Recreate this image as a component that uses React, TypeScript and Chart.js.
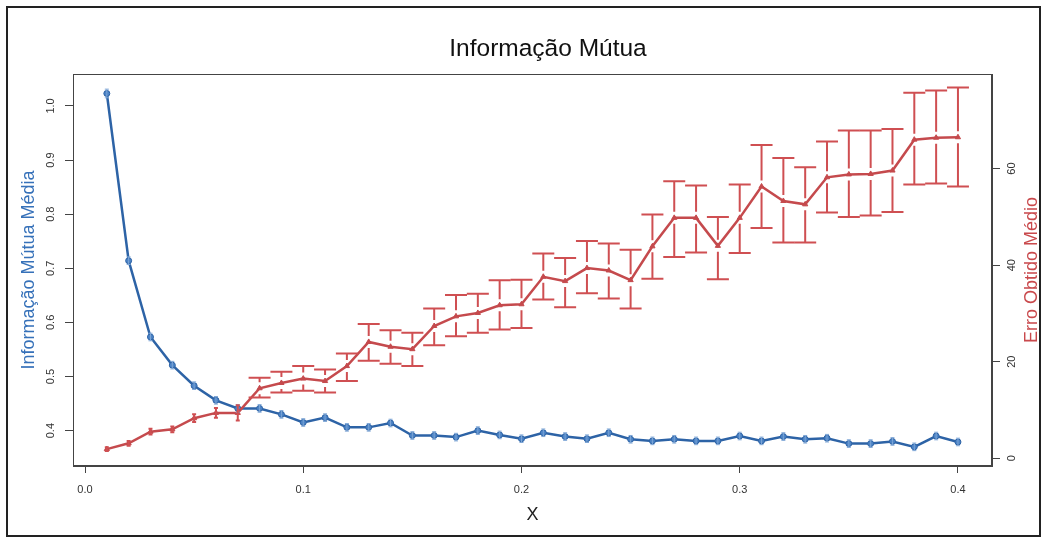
import React, { useEffect, useRef } from "react";
import { Chart, registerables } from "chart.js";

Chart.register(...registerables);

// ---------- data ----------
const xValues = [
  0.01, 0.02, 0.03, 0.04, 0.05, 0.06, 0.07, 0.08, 0.09, 0.1,
  0.11, 0.12, 0.13, 0.14, 0.15, 0.16, 0.17, 0.18, 0.19, 0.2,
  0.21, 0.22, 0.23, 0.24, 0.25, 0.26, 0.27, 0.28, 0.29, 0.3,
  0.31, 0.32, 0.33, 0.34, 0.35, 0.36, 0.37, 0.38, 0.39, 0.4,
];

const infoMutuaMedia = [
  1.023, 0.714, 0.573, 0.521, 0.483, 0.456, 0.441, 0.441, 0.43, 0.415,
  0.424, 0.406, 0.406, 0.414, 0.391, 0.391, 0.388, 0.4, 0.392, 0.385,
  0.396, 0.389, 0.385, 0.396, 0.384, 0.381, 0.384, 0.381, 0.381, 0.39,
  0.381, 0.389, 0.384, 0.386, 0.376, 0.376, 0.38, 0.37, 0.39, 0.379,
];

const infoMutuaErro = [
  0.008, 0.007, 0.007, 0.007, 0.007, 0.007, 0.007, 0.007, 0.007, 0.007,
  0.007, 0.007, 0.007, 0.007, 0.007, 0.007, 0.007, 0.007, 0.007, 0.007,
  0.007, 0.007, 0.007, 0.007, 0.007, 0.007, 0.007, 0.007, 0.007, 0.007,
  0.007, 0.007, 0.007, 0.007, 0.007, 0.007, 0.007, 0.007, 0.007, 0.007,
];

const erroObtidoMedio = [
  1.9, 3.1, 5.5, 6.0, 8.3, 9.4, 9.4, 14.5, 15.6, 16.5,
  16.0, 19.1, 24.1, 23.1, 22.6, 27.4, 29.4, 30.1, 31.7, 31.9,
  37.6, 36.7, 39.4, 38.9, 36.9, 43.9, 49.8, 49.8, 44.0, 49.8,
  56.3, 53.3, 52.6, 58.2, 58.8, 58.9, 59.6, 66.0, 66.4, 66.5,
];

const erroSuperior = [
  2.3, 3.6, 6.1, 6.6, 9.1, 10.4, 11.0, 16.7, 17.9, 19.1,
  18.4, 21.7, 27.8, 26.5, 26.0, 31.0, 33.8, 34.1, 36.9, 37.0,
  42.4, 41.5, 45.0, 44.5, 43.2, 50.5, 57.4, 56.5, 50.0, 56.7,
  64.9, 62.2, 60.3, 65.6, 67.9, 67.9, 68.2, 75.7, 76.2, 76.8,
];

const erroInferior = [
  1.5, 2.6, 4.9, 5.4, 7.5, 8.4, 7.8, 12.6, 13.6, 14.0,
  13.6, 16.0, 20.2, 19.6, 19.1, 23.4, 25.3, 26.0, 26.7, 27.0,
  32.9, 31.3, 34.2, 33.1, 31.0, 37.2, 41.7, 42.6, 37.1, 42.5,
  47.7, 44.7, 44.7, 50.9, 50.0, 50.3, 51.0, 56.7, 56.9, 56.3,
];

const xTicks = [0, 0.1, 0.2, 0.3, 0.4];
const leftTicks = [0.4, 0.5, 0.6, 0.7, 0.8, 0.9, 1.0];
const rightTicks = [0, 20, 40, 60];

const titleText = "Informação Mútua";
const xTitle = "X";
const leftTitle = "Informação Mútua Média";
const rightTitle = "Erro Obtido Médio";

// ---------- styles ----------
const FONT = "'Liberation Sans', Arial, Helvetica, sans-serif";
const NARROW = "'Liberation Sans Narrow', 'Liberation Sans', Arial, sans-serif";
const BLUE = "#2d63a6";
const BLUE_PT = "#4d84c6";
const BLUE_LABEL = "#3671b9";
const RED = "#c54a4d";
const RED_BAR = "#cf4f52";
const RED_LABEL = "#c94a4d";
const AXIS = "#444444";

const errorBarPlugin = {
  id: "errorBars",
  afterDatasetsDraw(chart: any) {
    const ctx = chart.ctx;
    chart.data.datasets.forEach((ds: any, i: number) => {
      const eb = ds.errorBars;
      if (!eb) return;
      const meta = chart.getDatasetMeta(i);
      const yScale = chart.scales[ds.yAxisID];
      ctx.save();
      ctx.strokeStyle = eb.color;
      ctx.lineWidth = eb.width;
      meta.data.forEach((pt: any, j: number) => {
        const x = pt.x;
        const y = pt.y;
        const yu = yScale.getPixelForValue(eb.upper[j]);
        const yl = yScale.getPixelForValue(eb.lower[j]);
        const longBar = yl - yu > 2 * eb.gap + 5;
        const cap = longBar ? eb.cap : eb.smallCap;
        ctx.beginPath();
        if (longBar) {
          ctx.moveTo(x, yu);
          ctx.lineTo(x, y - eb.gap);
          ctx.moveTo(x, y + eb.gap);
          ctx.lineTo(x, yl);
        } else {
          ctx.moveTo(x, yu);
          ctx.lineTo(x, yl);
        }
        ctx.moveTo(x - cap, yu);
        ctx.lineTo(x + cap, yu);
        ctx.moveTo(x - cap, yl);
        ctx.lineTo(x + cap, yl);
        ctx.stroke();
      });
      ctx.restore();
    });
  },
};

const decorPlugin = {
  id: "decor",
  beforeDraw(chart: any) {
    const ctx = chart.ctx;
    ctx.save();
    ctx.fillStyle = "#ffffff";
    ctx.fillRect(0, 0, chart.width, chart.height);
    ctx.restore();
  },
  afterDraw(chart: any) {
    const ctx = chart.ctx;
    const a = chart.chartArea;
    ctx.save();
    // plot box
    ctx.strokeStyle = AXIS;
    ctx.lineWidth = 1;
    ctx.strokeRect(a.left + 0.5, a.top + 0.5, a.right - a.left - 1, a.bottom - a.top - 1);
    // outer frame
    ctx.strokeStyle = "#222222";
    ctx.lineWidth = 2;
    ctx.strokeRect(7, 7, 1033, 529);
    // title
    ctx.fillStyle = "#111111";
    ctx.font = `24.5px ${FONT}`;
    ctx.textAlign = "center";
    ctx.textBaseline = "alphabetic";
    ctx.fillText(titleText, 548, 56);
    // right axis title (reads bottom to top)
    ctx.translate(1032, (a.top + a.bottom) / 2);
    ctx.rotate(-Math.PI / 2);
    ctx.fillStyle = RED_LABEL;
    ctx.font = `18px ${FONT}`;
    ctx.textBaseline = "middle";
    ctx.fillText(rightTitle, 0, 0);
    ctx.restore();
  },
};

export default function App() {
  const canvasRef = useRef<HTMLCanvasElement | null>(null);

  useEffect(() => {
    if (!canvasRef.current) return;
    const blueData = xValues.map((x, i) => ({ x, y: infoMutuaMedia[i] }));
    const redData = xValues.map((x, i) => ({ x, y: erroObtidoMedio[i] }));

    const chart = new Chart(canvasRef.current, {
      type: "line",
      data: {
        datasets: [
          {
            label: leftTitle,
            data: blueData,
            yAxisID: "yInfo",
            borderColor: BLUE,
            borderWidth: 2.5,
            backgroundColor: BLUE_PT,
            pointStyle: "circle",
            pointRadius: 3,
            pointBorderColor: BLUE,
            pointBorderWidth: 1,
            pointBackgroundColor: BLUE_PT,
            tension: 0,
            order: 1,
            errorBars: {
              upper: infoMutuaMedia.map((v, i) => v + infoMutuaErro[i]),
              lower: infoMutuaMedia.map((v, i) => v - infoMutuaErro[i]),
              color: "#7ea6d6",
              width: 1,
              cap: 2,
              smallCap: 2,
              gap: 0,
            },
          } as any,
          {
            label: rightTitle,
            data: redData,
            yAxisID: "yErro",
            borderColor: RED,
            borderWidth: 2.5,
            backgroundColor: RED,
            pointStyle: "triangle",
            pointRadius: 3,
            pointBorderColor: RED,
            pointBorderWidth: 1,
            pointBackgroundColor: RED,
            tension: 0,
            order: 0,
            errorBars: {
              upper: erroSuperior,
              lower: erroInferior,
              color: RED_BAR,
              width: 2,
              cap: 11,
              smallCap: 2,
              gap: 6,
            },
          } as any,
        ],
      },
      options: {
        animation: false,
        responsive: false,
        maintainAspectRatio: false,
        devicePixelRatio: 1,
        layout: { padding: { top: 74, left: 0, right: 0, bottom: 0 } },
        plugins: {
          legend: { display: false },
          title: { display: false },
          tooltip: { enabled: false },
        },
        scales: {
          x: {
            type: "linear",
            position: "bottom",
            min: -0.0055,
            max: 0.4156,
            afterBuildTicks: (s: any) => {
              s.ticks = xTicks.map((v) => ({ value: v }));
            },
            afterFit: (s: any) => {
              s.height = 76;
            },
            grid: {
              drawOnChartArea: false,
              drawTicks: true,
              tickLength: 7,
              color: AXIS,
              tickColor: AXIS,
            },
            border: { display: true, color: AXIS },
            ticks: {
              maxRotation: 0,
              minRotation: 0,
              padding: 10,
              color: "#333333",
              font: { size: 11, family: NARROW },
              callback: (v: any) => Number(v).toFixed(1),
            },
            title: {
              display: true,
              text: xTitle,
              color: "#222222",
              font: { size: 18, family: FONT },
              padding: { top: 0, bottom: 16 },
            },
          },
          yInfo: {
            type: "linear",
            position: "left",
            min: 0.3346,
            max: 1.059,
            afterBuildTicks: (s: any) => {
              s.ticks = leftTicks.map((v) => ({ value: v }));
            },
            afterFit: (s: any) => {
              s.width = 73;
            },
            grid: {
              drawOnChartArea: false,
              drawTicks: true,
              tickLength: 8,
              color: AXIS,
              tickColor: AXIS,
            },
            border: { display: true, color: AXIS },
            ticks: {
              minRotation: 90,
              maxRotation: 90,
              crossAlign: "center",
              padding: 6,
              color: "#333333",
              font: { size: 11, family: FONT },
              callback: (v: any) => Number(v).toFixed(1),
            },
            title: {
              display: true,
              text: leftTitle,
              color: BLUE_LABEL,
              font: { size: 18, family: FONT },
              padding: { top: 18, bottom: 0 },
            },
          },
          yErro: {
            type: "linear",
            position: "right",
            min: -1.6,
            max: 79.6,
            afterBuildTicks: (s: any) => {
              s.ticks = rightTicks.map((v) => ({ value: v }));
            },
            afterFit: (s: any) => {
              s.width = 55;
            },
            grid: {
              drawOnChartArea: false,
              drawTicks: true,
              tickLength: 8,
              color: AXIS,
              tickColor: AXIS,
            },
            border: { display: true, color: AXIS },
            ticks: {
              minRotation: 90,
              maxRotation: 90,
              crossAlign: "center",
              padding: 6,
              color: "#333333",
              font: { size: 11, family: FONT },
              callback: (v: any) => String(v),
            },
          },
        },
      } as any,
      plugins: [decorPlugin, errorBarPlugin],
    });

    return () => {
      chart.destroy();
    };
  }, []);

  return (
    <div style={{ position: "absolute", left: 0, top: 0, width: 1047, height: 542, background: "#fff" }}>
      <canvas ref={canvasRef} width={1047} height={542} style={{ display: "block", width: 1047, height: 542 }} />
    </div>
  );
}
